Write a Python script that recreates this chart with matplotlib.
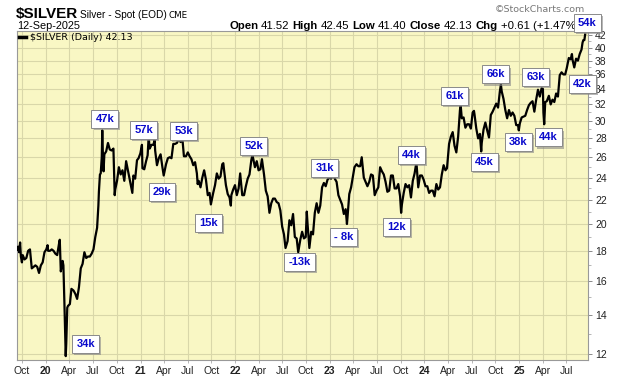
import matplotlib
matplotlib.use("Agg")
import matplotlib.pyplot as plt
import matplotlib.patheffects as pe
from matplotlib.lines import Line2D
from matplotlib.ticker import FixedLocator, FuncFormatter, NullFormatter
import pandas as pd

# silver spot closes (roughly weekly, extremes on their day)
dates_2019 = ["2019-09-12", "2019-09-16", "2019-09-20", "2019-09-24", "2019-09-27", "2019-10-01",
              "2019-10-04", "2019-10-11", "2019-10-18", "2019-10-25", "2019-11-01", "2019-11-08",
              "2019-11-15", "2019-11-22", "2019-11-29", "2019-12-06", "2019-12-13", "2019-12-20",
              "2019-12-27"]
price_2019 = [18.1, 18.3, 17.9, 18.6, 17.6, 17.2,
              17.7, 17.4, 17.5, 18.0, 18.1, 16.8,
              16.9, 17.0, 16.9, 16.5, 17.0, 17.2,
              17.9]

dates_2020 = ["2020-01-03", "2020-01-08", "2020-01-10", "2020-01-17", "2020-01-24", "2020-01-31",
              "2020-02-07", "2020-02-14", "2020-02-21", "2020-02-24", "2020-02-28", "2020-03-06",
              "2020-03-09", "2020-03-13", "2020-03-16", "2020-03-18", "2020-03-20", "2020-03-24",
              "2020-03-27", "2020-04-03", "2020-04-09", "2020-04-17", "2020-04-24", "2020-05-01",
              "2020-05-08", "2020-05-15", "2020-05-22", "2020-05-29", "2020-06-05", "2020-06-12",
              "2020-06-19", "2020-06-26", "2020-07-03", "2020-07-10", "2020-07-17", "2020-07-22",
              "2020-07-24", "2020-07-28", "2020-07-31", "2020-08-04", "2020-08-06", "2020-08-07",
              "2020-08-11", "2020-08-14", "2020-08-21", "2020-08-28", "2020-09-04", "2020-09-11",
              "2020-09-18", "2020-09-23", "2020-09-25", "2020-10-02", "2020-10-09", "2020-10-16",
              "2020-10-23", "2020-10-30", "2020-11-06", "2020-11-13", "2020-11-20", "2020-11-30",
              "2020-12-04", "2020-12-11", "2020-12-18", "2020-12-24", "2020-12-31"]
price_2020 = [18.1, 18.4, 18.0, 18.0, 18.1, 18.0,
              17.8, 17.7, 18.5, 18.8, 16.6, 17.3,
              17.0, 14.6, 12.8, 11.9, 12.5, 14.4,
              14.5, 14.6, 15.5, 15.4, 15.2, 14.9,
              15.6, 16.8, 17.1, 17.9, 17.5, 17.6,
              17.6, 17.8, 18.1, 19.0, 19.7, 21.5,
              22.7, 24.3, 24.4, 26.0, 28.9, 27.4,
              24.6, 26.3, 26.6, 27.5, 26.8, 26.7,
              26.9, 22.4, 22.9, 23.7, 25.0, 24.3,
              24.7, 23.7, 25.6, 24.7, 23.8, 22.6,
              24.2, 23.9, 25.7, 25.9, 26.4]

dates_2021 = ["2021-01-06", "2021-01-08", "2021-01-15", "2021-01-22", "2021-01-28", "2021-02-01",
              "2021-02-05", "2021-02-12", "2021-02-19", "2021-02-24", "2021-02-26", "2021-03-05",
              "2021-03-12", "2021-03-19", "2021-03-26", "2021-03-31", "2021-04-09", "2021-04-16",
              "2021-04-23", "2021-04-30", "2021-05-07", "2021-05-14", "2021-05-21", "2021-05-28",
              "2021-06-04", "2021-06-11", "2021-06-17", "2021-06-25", "2021-07-02", "2021-07-09",
              "2021-07-16", "2021-07-23", "2021-07-30", "2021-08-06", "2021-08-09", "2021-08-13",
              "2021-08-20", "2021-08-27", "2021-09-03", "2021-09-10", "2021-09-17", "2021-09-24",
              "2021-09-29", "2021-10-08", "2021-10-15", "2021-10-22", "2021-10-29", "2021-11-05",
              "2021-11-12", "2021-11-16", "2021-11-19", "2021-11-26", "2021-12-03", "2021-12-10",
              "2021-12-15", "2021-12-17", "2021-12-24", "2021-12-31"]
price_2021 = [27.3, 24.9, 24.8, 25.6, 26.2, 28.2,
              26.9, 27.3, 27.3, 27.8, 26.7, 25.2,
              25.9, 26.3, 25.0, 24.2, 25.3, 25.9,
              26.0, 25.9, 27.4, 27.4, 27.5, 27.9,
              27.6, 28.0, 26.1, 26.1, 26.5, 26.1,
              25.8, 25.2, 25.5, 24.4, 23.4, 23.7,
              23.1, 24.0, 24.7, 23.8, 22.4, 22.6,
              21.6, 22.6, 23.3, 24.4, 23.9, 24.1,
              25.3, 25.4, 24.7, 23.3, 22.5, 22.2,
              21.5, 22.4, 22.9, 23.3]

dates_2022 = ["2022-01-07", "2022-01-14", "2022-01-20", "2022-01-28", "2022-02-04", "2022-02-11",
              "2022-02-18", "2022-02-25", "2022-03-04", "2022-03-08", "2022-03-11", "2022-03-18",
              "2022-03-25", "2022-04-01", "2022-04-08", "2022-04-14", "2022-04-22", "2022-04-29",
              "2022-05-06", "2022-05-13", "2022-05-20", "2022-05-27", "2022-06-03", "2022-06-10",
              "2022-06-17", "2022-06-24", "2022-07-01", "2022-07-08", "2022-07-14", "2022-07-22",
              "2022-07-29", "2022-08-05", "2022-08-12", "2022-08-19", "2022-08-26", "2022-09-01",
              "2022-09-09", "2022-09-16", "2022-09-23", "2022-09-30", "2022-10-04", "2022-10-07",
              "2022-10-14", "2022-10-21", "2022-10-28", "2022-11-04", "2022-11-11", "2022-11-18",
              "2022-11-25", "2022-12-02", "2022-12-09", "2022-12-16", "2022-12-23", "2022-12-30"]
price_2022 = [22.4, 23.0, 24.4, 22.4, 22.4, 23.2,
              23.9, 24.3, 25.7, 26.2, 25.9, 25.0,
              25.6, 24.7, 24.8, 25.8, 24.3, 22.8,
              22.3, 20.9, 21.7, 22.1, 22.1, 21.8,
              21.7, 21.1, 19.8, 19.2, 18.2, 18.7,
              20.3, 19.9, 20.8, 19.0, 18.9, 17.9,
              18.8, 19.4, 18.9, 19.0, 21.0, 20.0,
              18.2, 19.4, 19.2, 20.9, 21.7, 20.9,
              21.5, 23.1, 23.5, 23.2, 23.8, 24.0]

dates_2023 = ["2023-01-06", "2023-01-13", "2023-01-20", "2023-01-27", "2023-02-03", "2023-02-10",
              "2023-02-17", "2023-02-24", "2023-03-03", "2023-03-08", "2023-03-10", "2023-03-17",
              "2023-03-24", "2023-03-31", "2023-04-06", "2023-04-14", "2023-04-21", "2023-04-28",
              "2023-05-04", "2023-05-12", "2023-05-19", "2023-05-26", "2023-06-02", "2023-06-09",
              "2023-06-16", "2023-06-23", "2023-06-30", "2023-07-07", "2023-07-14", "2023-07-21",
              "2023-07-28", "2023-08-04", "2023-08-11", "2023-08-18", "2023-08-25", "2023-09-01",
              "2023-09-08", "2023-09-15", "2023-09-22", "2023-09-29", "2023-10-03", "2023-10-06",
              "2023-10-13", "2023-10-20", "2023-10-27", "2023-11-03", "2023-11-10", "2023-11-17",
              "2023-11-24", "2023-12-01", "2023-12-08", "2023-12-15", "2023-12-22", "2023-12-29"]
price_2023 = [23.9, 24.3, 23.9, 23.6, 22.4, 22.0,
              21.6, 20.8, 21.2, 20.0, 20.5, 22.5,
              23.1, 24.1, 25.0, 25.3, 25.1, 25.1,
              26.0, 24.0, 23.6, 23.2, 23.6, 24.3,
              24.2, 22.4, 22.8, 23.1, 25.0, 24.6,
              24.3, 23.6, 22.7, 22.8, 24.2, 24.2,
              23.0, 23.0, 23.4, 22.3, 20.9, 21.6,
              22.6, 23.4, 23.1, 23.3, 22.2, 23.7,
              24.4, 25.5, 23.1, 24.2, 24.2, 23.8]

dates_2024 = ["2024-01-05", "2024-01-12", "2024-01-19", "2024-01-26", "2024-02-02", "2024-02-09",
              "2024-02-16", "2024-02-23", "2024-03-01", "2024-03-08", "2024-03-15", "2024-03-22",
              "2024-03-28", "2024-04-05", "2024-04-12", "2024-04-19", "2024-04-26", "2024-05-03",
              "2024-05-10", "2024-05-17", "2024-05-20", "2024-05-24", "2024-05-31", "2024-06-07",
              "2024-06-14", "2024-06-21", "2024-06-28", "2024-07-05", "2024-07-10", "2024-07-12",
              "2024-07-19", "2024-07-26", "2024-08-02", "2024-08-07", "2024-08-09", "2024-08-16",
              "2024-08-23", "2024-08-30", "2024-09-06", "2024-09-13", "2024-09-20", "2024-09-27",
              "2024-10-04", "2024-10-11", "2024-10-18", "2024-10-22", "2024-10-25", "2024-11-01",
              "2024-11-08", "2024-11-15", "2024-11-22", "2024-11-29", "2024-12-06", "2024-12-13",
              "2024-12-20", "2024-12-27", "2024-12-30"]
price_2024 = [23.2, 23.2, 22.6, 22.8, 22.8, 22.3,
              23.4, 22.9, 23.1, 24.3, 25.2, 24.7,
              24.9, 27.4, 28.2, 28.7, 27.2, 26.5,
              28.2, 31.3, 31.8, 30.3, 30.4, 29.2,
              29.6, 29.6, 29.1, 31.0, 31.2, 30.8,
              29.1, 28.0, 28.5, 26.6, 27.5, 29.0,
              29.8, 28.9, 28.1, 30.7, 31.1, 31.6,
              32.1, 31.6, 33.7, 34.6, 33.7, 32.7,
              31.3, 30.3, 31.3, 30.6, 31.0, 30.6,
              29.5, 29.5, 28.9]

dates_2025 = ["2025-01-03", "2025-01-10", "2025-01-17", "2025-01-24", "2025-01-31", "2025-02-07",
              "2025-02-14", "2025-02-21", "2025-02-28", "2025-03-07", "2025-03-14", "2025-03-21",
              "2025-03-28", "2025-04-02", "2025-04-04", "2025-04-07", "2025-04-11", "2025-04-17",
              "2025-04-25", "2025-05-02", "2025-05-09", "2025-05-16", "2025-05-23", "2025-05-30",
              "2025-06-06", "2025-06-13", "2025-06-20", "2025-06-27", "2025-07-03", "2025-07-11",
              "2025-07-18", "2025-07-23", "2025-07-25", "2025-08-01", "2025-08-08", "2025-08-15",
              "2025-08-22", "2025-08-29", "2025-09-02", "2025-09-05", "2025-09-09", "2025-09-12"]
price_2025 = [29.7, 30.4, 30.5, 30.6, 31.3, 31.9,
              32.2, 32.4, 31.1, 32.6, 33.9, 33.0,
              34.1, 34.0, 31.0, 29.6, 32.3, 32.4,
              33.1, 32.0, 32.6, 32.3, 33.4, 33.0,
              35.9, 36.3, 36.0, 36.0, 36.9, 38.4,
              38.2, 39.0, 38.2, 37.0, 38.3, 38.0,
              39.0, 39.7, 40.8, 41.2, 41.2, 42.13]

# COT net position call-outs: text, anchor date, anchor price
note_text = ["34k", "47k", "57k", "53k", "29k", "15k", "52k", "-13k", "31k", "- 8k",
             "12k", "44k", "61k", "45k", "66k", "38k", "63k", "44k", "42k", "54k"]
note_date = ["2020-06-03", "2020-08-16", "2021-01-13", "2021-06-16", "2021-03-24",
             "2021-09-21", "2022-03-13", "2022-09-06", "2022-12-12", "2023-02-23",
             "2023-09-15", "2023-11-12", "2024-04-26", "2024-08-19", "2024-10-01",
             "2024-12-28", "2025-03-04", "2025-04-23", "2025-09-01", "2025-09-20"]
note_price = [12.5, 30.2, 28.9, 28.8, 22.7, 20.1, 27.2, 17.2, 24.9, 19.0,
              19.8, 26.2, 33.1, 25.5, 36.0, 27.6, 35.7, 28.1, 34.7, 44.0]

y_ticks = list(range(12, 43, 2))
y_minor = list(range(13, 42, 2))

dates = pd.to_datetime(dates_2019 + dates_2020 + dates_2021 + dates_2022 + dates_2023
                       + dates_2024 + dates_2025)
prices = price_2019 + price_2020 + price_2021 + price_2022 + price_2023 + price_2024 + price_2025

SANS = ['Liberation Sans', 'DejaVu Sans']
W, H = 620, 376


def fx(px):
    return px / W


def fy(py):
    return 1 - py / H


fig = plt.figure(figsize=(6.2, 3.76), dpi=100)
ax = fig.add_axes([fx(17), fy(360), fx(588 - 17), (360 - 31) / H])
ax.set_facecolor('#F9F7C4')

ax.plot(dates, prices, color='black', lw=1.6, zorder=3)

ax.set_yscale('log')
ax.set_ylim(11.72, 42.7)
ax.set_xlim(pd.Timestamp("2019-09-12"), pd.Timestamp("2025-09-23"))

# y axis on the right
ax.yaxis.tick_right()
ax.yaxis.set_major_locator(FixedLocator(y_ticks))
ax.yaxis.set_major_formatter(FuncFormatter(lambda v, p: "%d" % round(v)))
ax.yaxis.set_minor_locator(FixedLocator(y_minor))
ax.yaxis.set_minor_formatter(NullFormatter())
ax.tick_params(axis='y', which='major', length=3, width=0.6, color='#777777', pad=2,
               labelsize=7.5, labelcolor='#222222')
ax.tick_params(axis='y', which='minor', length=2, width=0.5, color='#999999')

# quarterly x axis
quarters = pd.date_range("2019-10-01", "2025-07-01", freq="QS-JAN")
qlabels = [("%02d" % (q.year % 100)) if q.month == 1 else q.strftime("%b") for q in quarters]
ax.set_xticks(quarters)
ax.set_xticklabels(qlabels)
ax.xaxis.set_minor_locator(FixedLocator([]))
ax.tick_params(axis='x', length=2, width=0.5, color='#999999', pad=2, labelsize=7.5,
               labelcolor='#222222')
for lbl in ax.get_xticklabels():
    lbl.set_family(SANS)
    if lbl.get_text().isdigit():
        lbl.set_fontweight('bold')
for lbl in ax.get_yticklabels():
    lbl.set_family(SANS)

ax.grid(True, which='major', color='#D9D7A9', lw=0.8)
ax.set_axisbelow(True)
for s in ax.spines.values():
    s.set_color('#999999')
    s.set_linewidth(0.8)

# legend
handle = Line2D([], [], color='black', lw=2.5)
ax.legend([handle], ["$SILVER (Daily) 42.13"], loc='upper left', frameon=False,
          handlelength=0.7, handletextpad=0.4, borderaxespad=0.05, borderpad=0.2,
          prop={'family': 'DejaVu Sans', 'size': 6.8})

# call-out boxes
for txt, d, p in zip(note_text, note_date, note_price):
    t = ax.text(pd.Timestamp(d), p, txt, ha='center', va='center', fontsize=8,
                fontweight='bold', color='#0A0ACC', family=SANS,
                zorder=6, clip_on=False,
                bbox=dict(boxstyle='square,pad=0.36', fc='white', ec='#8A8A8A', lw=0.7))
    t.get_bbox_patch().set_path_effects([
        pe.SimplePatchShadow(offset=(1.5, -1.5), shadow_rgbFace='#888888', alpha=0.6),
        pe.Normal()])

# header
hdr = dict(transform=fig.transFigure, clip_on=False, zorder=1, va='baseline', ha='left')
ax.text(fx(16), fy(18), "$SILVER", fontsize=11, fontweight='bold', family=SANS, **hdr)
ax.text(fx(80), fy(18), "Silver - Spot (EOD)", fontsize=7.3, family=SANS, **hdr)
ax.text(fx(168), fy(18), "CME", fontsize=6.3, family='DejaVu Sans', **hdr)
ax.text(fx(17), fy(29), "12-Sep-2025", fontsize=7.8, family=SANS, **hdr)
ax.text(fx(585), fy(12), "\u00a9StockCharts.com", fontsize=6.8, family='DejaVu Sans',
        color='#777777', **{**hdr, 'ha': 'right'})

renderer = fig.canvas.get_renderer()
x = 229
pieces = [("Open", True), ("41.52", False), ("High", True), ("42.45", False),
          ("Low", True), ("41.40", False), ("Close", True), ("42.13", False),
          ("Chg", True), ("+0.61 (+1.47%", False)]
for s, bold in pieces:
    t = ax.text(fx(x), fy(29), s, fontsize=8.2, fontweight='bold' if bold else 'normal',
                family=SANS, **hdr)
    x += t.get_window_extent(renderer).width + 3

fig.savefig("out.png", dpi=100, facecolor='white')
